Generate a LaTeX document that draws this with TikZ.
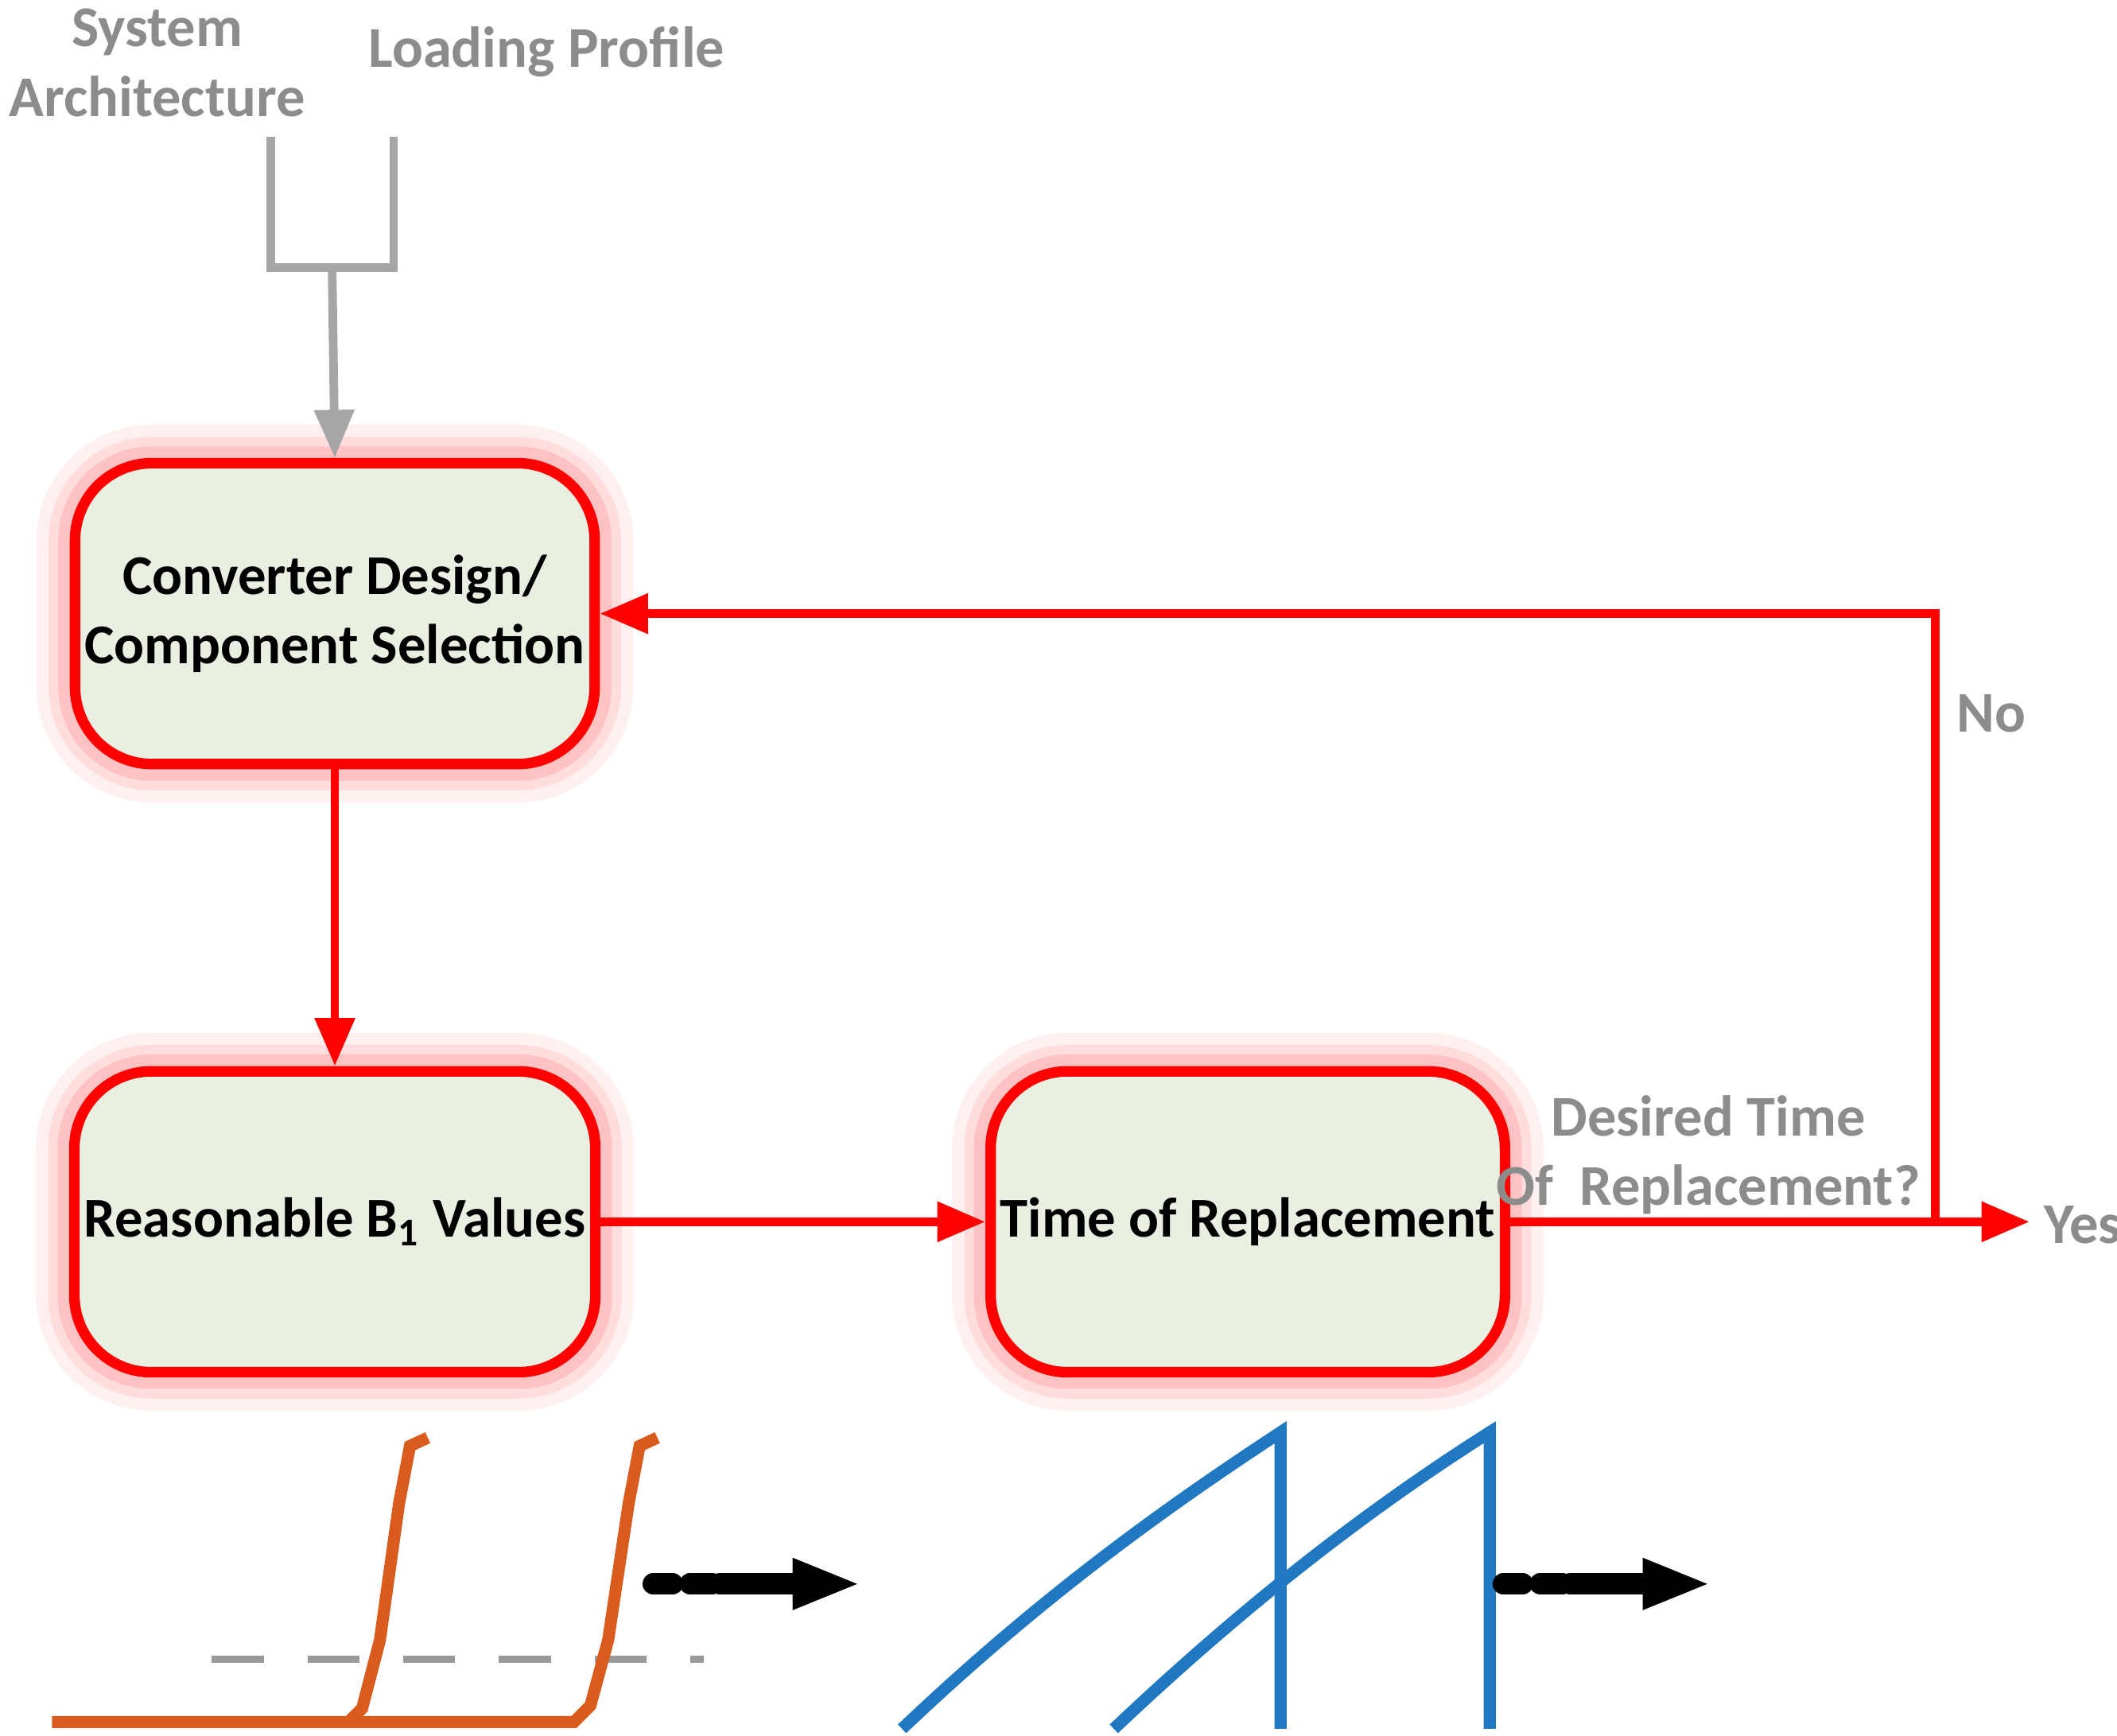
\documentclass[tikz,border=0pt]{standalone}
\usepackage{fontspec}
\setmainfont{Carlito}
\usetikzlibrary{arrows.meta}
\definecolor{boxfill}{HTML}{EAF0E1}
\definecolor{curveorange}{HTML}{D95B1E}
\definecolor{curveblue}{HTML}{1F78C0}
\tikzset{
  blk/.style={draw=red, line width=2.2pt, fill=boxfill, rounded corners=16pt,
    minimum width=3.6cm, minimum height=2.2cm, inner sep=2pt,
    font=\fontsize{11.7}{14.5}\selectfont\bfseries, align=center,
    preaction={draw=red, draw opacity=0.06, line width=16pt},
    preaction={draw=red, draw opacity=0.08, line width=11pt},
    preaction={draw=red, draw opacity=0.12, line width=7pt}},
  grey/.style={font=\fontsize{12}{14.5}\selectfont\bfseries, text=gray!90, align=center},
  flow/.style={red, line width=1.8pt, -{Triangle[length=10pt,width=8pt]}},
  feed/.style={gray!70, line width=1.8pt}
}
\begin{document}
\begin{tikzpicture}[x=0.01cm,y=-0.01cm]
\useasboundingbox (0,0) rectangle (1549,1270);
% inputs
\node[grey] (sys) at (115,46) {System\\Architecture};
\node[grey] (load) at (400,38) {Loading Profile};
\coordinate (fl) at (198,100);
\coordinate (fr) at (288,100);
% blocks
\node[blk] (conv) at (245,449) {Converter Design/\\Component Selection};
\node[blk] (bval) at (245,894) {Reasonable B$_\mathbf{1}$ Values};
\node[blk] (tor) at (913,894) {Time of Replacement};
\coordinate (fork) at (1416,894);
\coordinate (yes end) at (1485,894);
\node[grey] (yes) at (1524,896) {Yes};
\node[grey] (no) at (1457,522) {No};
\node[grey] (ask) at (1250,845) {Desired Time\\Of~ Replacement?};
% fork of inputs
\draw[feed] (fl) |- (243,196) -| (fr);
\draw[feed, -{Triangle[length=10pt,width=8pt]}] (243,196) -- (conv.north);
% flow
\draw[flow] (conv) -- (bval);
\draw[flow] (bval) -- (tor);
\draw[flow] (tor) -- (yes end);
\draw[flow] (fork) |- (conv.east);
% lifetime curves
\draw[gray!80, line width=1.5pt, dash pattern=on 0.38cm off 0.32cm] (155,1214) -- (515,1214);
\draw[curveorange, line width=2.5pt] (38,1260) -- (255,1260) -- (265,1250) -- (278,1200) -- (292,1100) -- (300,1058) -- (313,1052);
\draw[curveorange, line width=2.5pt] (255,1260) -- (420,1260) -- (432,1248) -- (445,1200) -- (460,1100) -- (468,1058) -- (481,1052);
\draw[curveblue, line width=2.5pt] (660,1265) .. controls (760,1170) and (850,1105) .. (937,1048) -- (937,1265);
\draw[curveblue, line width=2.5pt] (815,1265) .. controls (910,1175) and (1000,1105) .. (1090,1048) -- (1090,1265);
% continuation arrows
\foreach \x in {478,1100}
  \draw[line width=4.5pt, line cap=round, dash pattern=on 0.14cm off 0.13cm on 0.16cm off 0.06cm on 2cm,
    -{Triangle[length=0.5cm,width=0.34cm]}] (\x,1159) -- (\x+152,1159);
\end{tikzpicture}
\end{document}
